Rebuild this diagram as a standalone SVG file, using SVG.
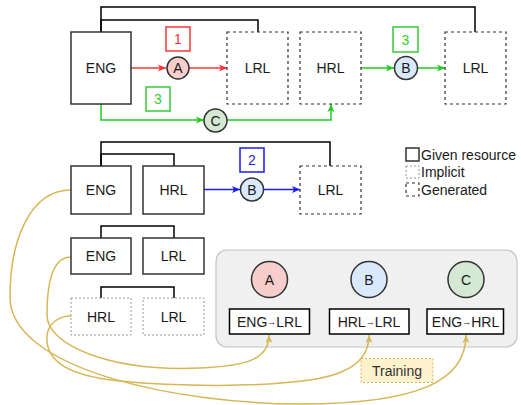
<svg xmlns="http://www.w3.org/2000/svg" width="521" height="405" viewBox="0 0 521 405">
<defs>
<style>
text{font-family:"Liberation Sans",Arial,sans-serif;font-size:14px;fill:#1a1a1a;text-anchor:middle;dominant-baseline:central}
.given{fill:#fff;stroke:#333;stroke-width:1.5}
.gen{fill:#fff;stroke:#333;stroke-width:1.2;stroke-dasharray:3 3}
.impl{fill:#fff;stroke:#999;stroke-width:1;stroke-dasharray:2 2}
.br{fill:none;stroke:#000;stroke-width:1.5}
.red{fill:none;stroke:#ff3333;stroke-width:1.5}
.grn{fill:none;stroke:#22cc22;stroke-width:1.5}
.blu{fill:none;stroke:#1a1aff;stroke-width:1.5}
.gold{fill:none;stroke:#d6b656;stroke-width:1.5}
.sm{stroke:#333;stroke-width:1.5}
</style>
<marker id="mr" markerWidth="9" markerHeight="8" refX="8" refY="4" orient="auto" markerUnits="userSpaceOnUse"><path d="M0,0.5 L8,4 L0,7.5 L2,4 z" fill="#ff3333"/></marker>
<marker id="mg" markerWidth="9" markerHeight="8" refX="8" refY="4" orient="auto" markerUnits="userSpaceOnUse"><path d="M0,0.5 L8,4 L0,7.5 L2,4 z" fill="#22cc22"/></marker>
<marker id="mb" markerWidth="9" markerHeight="8" refX="8" refY="4" orient="auto" markerUnits="userSpaceOnUse"><path d="M0,0.5 L8,4 L0,7.5 L2,4 z" fill="#1a1aff"/></marker>
<marker id="my" markerWidth="9" markerHeight="8" refX="8" refY="4" orient="auto" markerUnits="userSpaceOnUse"><path d="M0,0.5 L8,4 L0,7.5 L2,4 z" fill="#d6b656"/></marker>
</defs>
<rect width="521" height="405" fill="#fff"/>

<g id="panel">
<rect x="216" y="250" width="301" height="97" rx="11" fill="#f0f0f0" stroke="#c4c4c4" stroke-width="1.2"/>
</g>

<g id="connectors">
<path class="br" d="M101,32 V7 H475 V32"/>
<path class="br" d="M101,32 V20 H258 V32"/>
<path class="br" d="M101,166 V142 H330 V166"/>
<path class="br" d="M101,166 V154 H174 V166"/>
<path class="br" d="M101,238 V226 H174 V238"/>
<path class="br" d="M101,298 V287 H174 V298"/>
<path class="red" d="M131,68 H166" marker-end="url(#mr)"/>
<path class="red" d="M189,68 H227" marker-end="url(#mr)"/>
<path class="grn" d="M101,104 V120 H204" marker-end="url(#mg)"/>
<path class="grn" d="M227,120 H331 V104" marker-end="url(#mg)"/>
<path class="grn" d="M361,68 H394" marker-end="url(#mg)"/>
<path class="grn" d="M418,68 H445" marker-end="url(#mg)"/>
<path class="blu" d="M204,189.5 H240" marker-end="url(#mb)"/>
<path class="blu" d="M264,189.5 H300" marker-end="url(#mb)"/>
<path class="gold" d="M71,190 C30,190 10,240 10,297 C10,370 180,404 300,404 C420,404 466,380 466,335" marker-end="url(#my)"/>
<path class="gold" d="M71,257 C52,257 47,285 47,315 C47,345 110,372 200,368 C245,366 269,360 269,335" marker-end="url(#my)"/>
<path class="gold" d="M71,316 C58,316 48,324 47,336 C45,362 70,376 120,381 C180,387 260,387 310,380 C350,374 369,360 369,335" marker-end="url(#my)"/>
</g>

<g id="lbl1"><rect x="166" y="27" width="24" height="24" fill="#fff" stroke="#ff3333" stroke-width="1.5"/><text x="178" y="39" style="fill:#ff3333">1</text></g>
<g id="lbl3a"><rect x="146" y="87" width="24" height="24" fill="#fff" stroke="#33cc33" stroke-width="1.5"/><text x="158" y="99" style="fill:#33cc33">3</text></g>
<g id="lbl3b"><rect x="393" y="27" width="25" height="25" fill="#fff" stroke="#33cc33" stroke-width="1.5"/><text x="405.5" y="39.5" style="fill:#33cc33">3</text></g>
<g id="lbl2"><rect x="240" y="148" width="24" height="24" fill="#fff" stroke="#1a1aff" stroke-width="1.5"/><text x="252" y="160" style="fill:#1a1aff">2</text></g>

<g id="n-eng1"><rect class="given" x="71" y="32" width="60" height="72"/><text x="101" y="68">ENG</text></g>
<g id="n-lrl1"><rect class="gen" x="227" y="32" width="61" height="72"/><text x="257.5" y="68">LRL</text></g>
<g id="n-hrl1"><rect class="gen" x="300" y="32" width="61" height="72"/><text x="330.5" y="68">HRL</text></g>
<g id="n-lrl2"><rect class="gen" x="445" y="32" width="61" height="72"/><text x="475.5" y="68">LRL</text></g>
<g id="c-a1"><circle class="sm" cx="178" cy="68" r="11" fill="#f8cecc"/><text x="178" y="68">A</text></g>
<g id="c-c1"><circle class="sm" cx="215.5" cy="120.5" r="11.5" fill="#d5e8d4"/><text x="215.5" y="120.5">C</text></g>
<g id="c-b1"><circle class="sm" cx="406" cy="68" r="11.5" fill="#dae8fc"/><text x="406" y="68">B</text></g>

<g id="n-eng2"><rect class="given" x="71" y="166" width="60" height="48"/><text x="101" y="190">ENG</text></g>
<g id="n-hrl2"><rect class="given" x="143" y="166" width="61" height="48"/><text x="173.5" y="190">HRL</text></g>
<g id="n-lrl3"><rect class="gen" x="300" y="166" width="61" height="48"/><text x="330.5" y="190">LRL</text></g>
<g id="c-b2"><circle class="sm" cx="252" cy="189.5" r="11.5" fill="#dae8fc"/><text x="252" y="189.5">B</text></g>

<g id="n-eng3"><rect class="given" x="71" y="238" width="60" height="36"/><text x="101" y="256">ENG</text></g>
<g id="n-lrl4"><rect class="given" x="143" y="238" width="61" height="36"/><text x="173.5" y="256">LRL</text></g>
<g id="n-hrl4"><rect class="impl" x="71" y="298" width="60" height="37"/><text x="101" y="316.5">HRL</text></g>
<g id="n-lrl5"><rect class="impl" x="143" y="298" width="61" height="37"/><text x="173.5" y="316.5">LRL</text></g>

<g id="legend">
<rect x="406" y="148" width="13" height="13" fill="#fff" stroke="#333" stroke-width="1.5"/>
<rect x="406" y="166" width="13" height="12" fill="#fff" stroke="#999" stroke-width="1" stroke-dasharray="2 2"/>
<rect x="406" y="183" width="13" height="13" fill="#fff" stroke="#333" stroke-width="1.2" stroke-dasharray="3 3"/>
<text x="421" y="155" style="text-anchor:start">Given resource</text>
<text x="421" y="172" style="text-anchor:start">Implicit</text>
<text x="421" y="189.5" style="text-anchor:start">Generated</text>
</g>

<g id="m-a"><circle class="sm" cx="269.5" cy="279.5" r="18" fill="#f8cecc"/><text x="269.5" y="279.5">A</text></g>
<g id="m-b"><circle class="sm" cx="369" cy="279.5" r="18" fill="#dae8fc"/><text x="369" y="279.5">B</text></g>
<g id="m-c"><circle class="sm" cx="466" cy="279.5" r="18" fill="#d5e8d4"/><text x="466" y="279.5">C</text></g>
<g id="t-a"><rect x="229.5" y="309" width="80" height="25" fill="#fff" stroke="#000" stroke-width="1.5"/><text x="269.5" y="321.5">ENG<tspan font-size="9">→</tspan>LRL</text></g>
<g id="t-b"><rect x="329.5" y="309" width="79.5" height="25" fill="#fff" stroke="#000" stroke-width="1.5"/><text x="369" y="321.5">HRL<tspan font-size="9">→</tspan>LRL</text></g>
<g id="t-c"><rect x="427" y="309" width="76.5" height="25" fill="#fff" stroke="#000" stroke-width="1.5"/><text x="465.5" y="321.5">ENG<tspan font-size="9">→</tspan>HRL</text></g>

<g id="training"><rect x="361" y="358.5" width="72" height="24" fill="#fff2cc" stroke="#d6b656" stroke-width="1" stroke-dasharray="2 2"/><text x="397" y="370.5" style="fill:#333">Training</text></g>
</svg>
